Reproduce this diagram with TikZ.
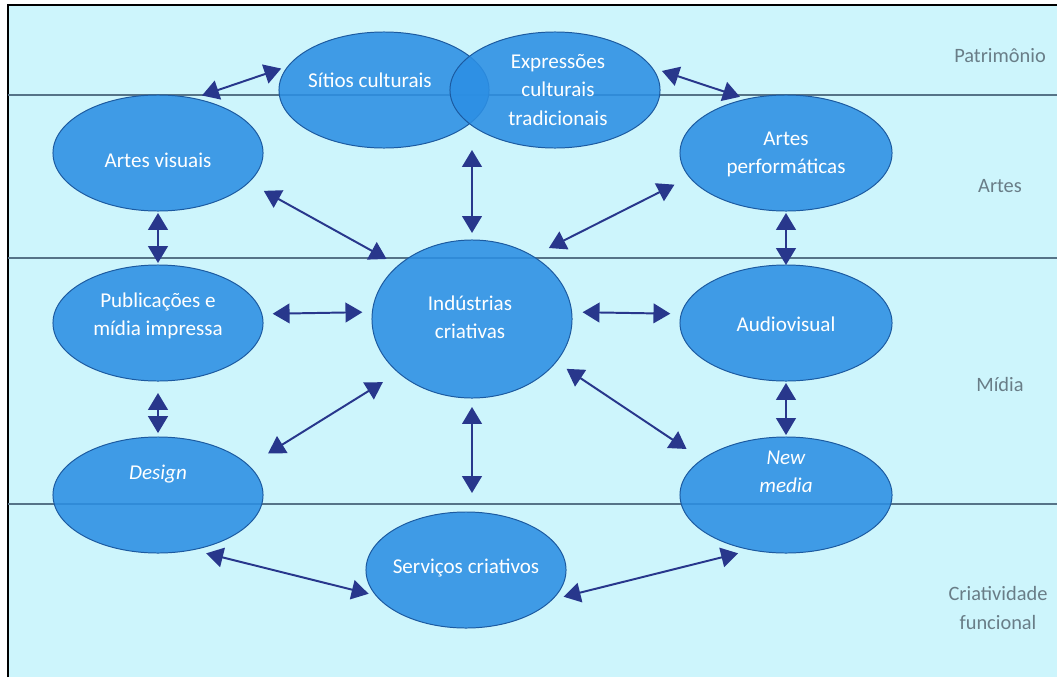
\documentclass[tikz,border=0pt]{standalone}
\usepackage{fontspec}
\setmainfont{Carlito}
\usepackage{tikz}
\usetikzlibrary{shapes.geometric, arrows.meta}

\definecolor{bgcyan}{RGB}{205,245,252}
\definecolor{ellfill}{RGB}{44,143,228}
\definecolor{elledge}{RGB}{28,90,160}
\definecolor{arrnavy}{RGB}{40,55,140}
\definecolor{sepline}{RGB}{85,115,135}
\definecolor{laygray}{RGB}{105,125,135}

\begin{document}
\begin{tikzpicture}[x=0.025cm, y=-0.025cm,
		ell/.style={ellipse, draw=elledge, line width=0.7pt, fill=ellfill, fill opacity=0.88,
			inner sep=0pt, outer sep=0pt, minimum width=5.25cm, minimum height=2.9cm},
		txt/.style={text=white, align=center, font=\fontsize{15}{20}\selectfont},
		layer/.style={text=laygray, align=center, font=\fontsize{14.5}{21}\selectfont},
		link/.style={{Triangle[length=12pt,width=14pt]}-{Triangle[length=12pt,width=14pt]},
			draw=arrnavy, line width=1.4pt}]
			\useasboundingbox (0,0) rectangle (1057,677);
			\fill[bgcyan] (8,5) rectangle (1057,677);
			\draw[line width=1.5pt] (8,677) -- (8,5) -- (1057,5);
			\draw[sepline, line width=0.8pt] (8,95) -- (1057,95);
			\draw[sepline, line width=0.8pt] (8,258) -- (1057,258);
			\draw[sepline, line width=0.8pt] (8,504) -- (1057,504);
			\node[layer] (lpat) at (1000,56) {Patrimônio};
			\node[layer] (lart) at (1000,186) {Artes};
			\node[layer] (lmid) at (1000,384) {Mídia};
			\node[layer] (lcri) at (998,608) {Criatividade\\funcional};
			\node[ell] (sit) at (384,90) {};
			\node[ell] (exp) at (555,90) {};
			\node[ell] (av) at (158,153) {};
			\node[ell, minimum width=5.3cm] (ap) at (786,153) {};
			\node[ell, minimum width=5cm, minimum height=3.95cm] (ind) at (472,319) {};
			\node[ell] (pub) at (158,323) {};
			\node[ell, minimum width=5.3cm] (aud) at (786,323) {};
			\node[ell] (dsg) at (158,495) {};
			\node[ell, minimum width=5.3cm] (nm) at (786,495) {};
			\node[ell, minimum width=5cm] (srv) at (466,570) {};
			\node[txt] (sit-t) at (370,80) {Sítios culturais};
			\node[txt] (exp-t) at (558,90) {Expressões\\culturais\\tradicionais};
			\node[txt] (av-t) at (158,160) {Artes visuais};
			\node[txt] (ap-t) at (786,154) {Artes\\performáticas};
			\node[txt] (ind-t) at (470,317) {Indústrias\\criativas};
			\node[txt] (pub-t) at (158,316) {Publicações e\\mídia impressa};
			\node[txt] (aud-t) at (786,324) {Audiovisual};
			\node[txt] (dsg-t) at (158,474) {\textit{Design}};
			\node[txt] (nm-t) at (786,472) {\textit{New}\\\textit{media}};
			\node[txt] (srv-t) at (466,568) {Serviços criativos};
			\draw[link, shorten <=6.4pt, shorten >=5.3pt] (av.57) -- (sit.166);
			\draw[link, shorten <=7.5pt, shorten >=5.2pt] (exp.13) -- (ap.126);
			\draw[link, shorten <=1.4pt, shorten >=5pt] (ind.north |- exp.south) -- (ind.north);
			\draw[link, shorten <=12.4pt, shorten >=9.6pt] (av.342) -- (ind.144);
			\draw[link, shorten <=12pt, shorten >=12.9pt] (ap.194) -- (ind.46);
			\draw[link, shorten <=1.4pt, shorten >=1.4pt] (av) -- (pub);
			\draw[link, shorten <=1.4pt, shorten >=0pt] (ap) -- (aud);
			\draw[link, shorten <=7.8pt, shorten >=7.1pt] (pub.5) -- (ind.176);
			\draw[link, shorten <=7.8pt, shorten >=7.8pt] (ind.4) -- (aud.175);
			\draw[link, shorten <=8.5pt, shorten >=2.8pt] (pub) -- (dsg);
			\draw[link, shorten <=1.4pt, shorten >=1.4pt] (aud) -- (nm);
			\draw[link, shorten <=13pt, shorten >=16.3pt] (ind.216) -- (dsg.18);
			\draw[link, shorten <=9pt, shorten >=13.4pt] (ind.333) -- (nm.157);
			\draw[link, shorten <=6.4pt, shorten >=13.5pt] (ind.south) -- (ind.south |- srv.north);
			\draw[link, shorten <=10.2pt, shorten >=5.7pt] (dsg.302) -- (srv.196);
			\draw[link, shorten <=8.5pt, shorten >=10pt] (srv.341) -- (nm.238);
\end{tikzpicture}
\end{document}
